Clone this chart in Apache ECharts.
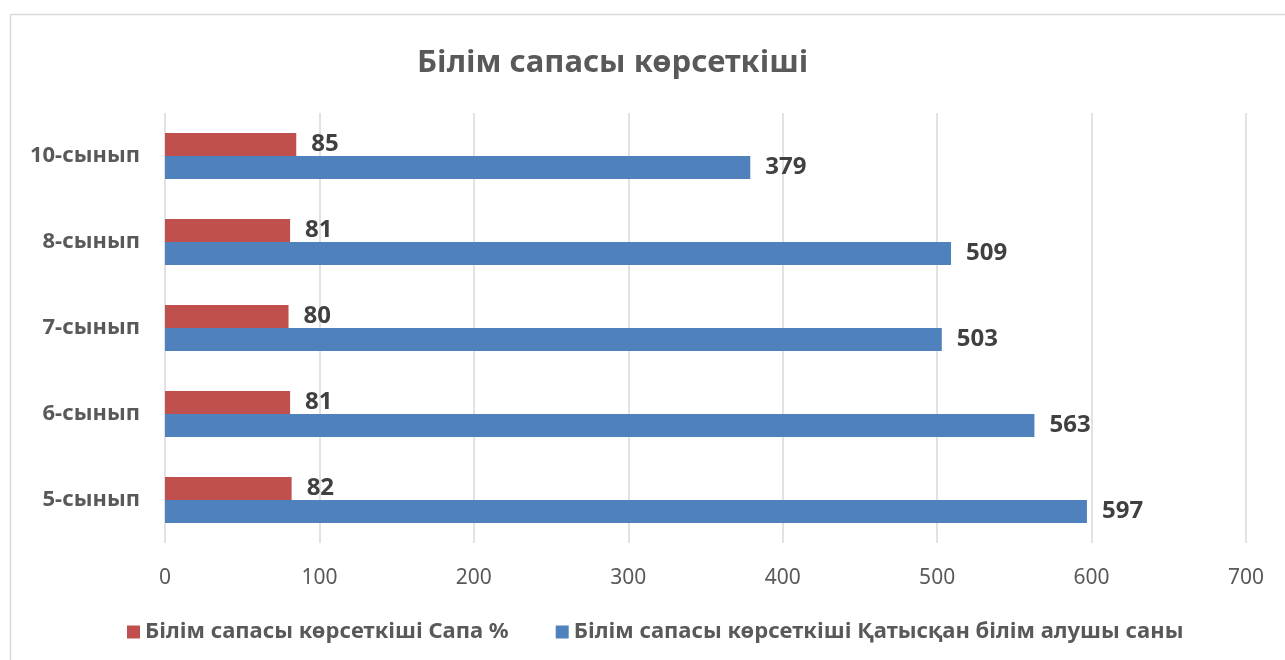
<!DOCTYPE html>
<html>
<head>
<meta charset="utf-8">
<script src="https://cdn.jsdelivr.net/npm/echarts@6/dist/echarts.min.js"></script>
<style>
  html, body { margin: 0; padding: 0; background: #fff; }
  #chart { width: 1285px; height: 660px; }
</style>
</head>
<body>
<div id="chart"></div>
<script>
const categories = ['5-сынып', '6-сынып', '7-сынып', '8-сынып', '10-сынып']
const qualityPct = [82, 81, 80, 81, 85]
const studentCount = [597, 563, 503, 509, 379]
const xTicks = [0, 100, 200, 300, 400, 500, 600, 700]

const chart = echarts.init(document.getElementById('chart'))
const font = '"Noto Sans", sans-serif'
const textGray = '#595959'

const valueLabel = {
  show: true,
  position: 'right',
  distance: 15,
  color: '#404040',
  fontWeight: 'bold',
  fontSize: 24,
  fontFamily: font
}

const option = {
  backgroundColor: '#fff',
  textStyle: { fontFamily: font },
  graphic: [
    {
      type: 'rect',
      shape: { x: 10.5, y: 14.5, width: 1290, height: 660 },
      style: { fill: 'none', stroke: '#d9d9d9', lineWidth: 1.5 },
      silent: true
    }
  ],
  title: {
    text: 'Білім сапасы көрсеткіші',
    left: 412,
    top: 43,
    textStyle: { color: textGray, fontSize: 31, fontWeight: 'bold', fontFamily: font }
  },
  legend: {
    bottom: 12,
    left: 122,
    itemWidth: 13,
    itemHeight: 13,
    itemGap: 47,
    icon: 'rect',
    textStyle: { color: textGray, fontSize: 22, fontWeight: 'bold', fontFamily: font },
    data: ['Білім сапасы көрсеткіші Сапа %', 'Білім сапасы көрсеткіші Қатысқан білім алушы саны']
  },
  grid: { left: 165, right: 39, top: 113, bottom: 117, containLabel: false },
  xAxis: {
    type: 'value',
    min: 0,
    max: 700,
    interval: 100,
    axisLine: { show: false },
    axisTick: { show: false },
    axisLabel: {
      color: textGray,
      fontSize: 21,
      margin: 25,
      fontFamily: font,
      formatter: (v) => (xTicks.includes(v) ? String(v) : '')
    },
    splitLine: { lineStyle: { color: '#d9d9d9', width: 1.5 } }
  },
  yAxis: {
    type: 'category',
    data: categories,
    axisLine: { show: false },
    axisTick: { show: false },
    axisLabel: { color: textGray, fontSize: 22, fontWeight: 'bold', margin: 25, fontFamily: font }
  },
  series: [
    {
      name: 'Білім сапасы көрсеткіші Сапа %',
      type: 'bar',
      data: qualityPct,
      barWidth: 23,
      barGap: '0%',
      itemStyle: { color: '#c0504d' },
      label: valueLabel
    },
    {
      name: 'Білім сапасы көрсеткіші Қатысқан білім алушы саны',
      type: 'bar',
      data: studentCount,
      barWidth: 23,
      barGap: '0%',
      itemStyle: { color: '#4f81bd' },
      label: valueLabel
    }
  ]
}

chart.setOption(option)
</script>
</body>
</html>
